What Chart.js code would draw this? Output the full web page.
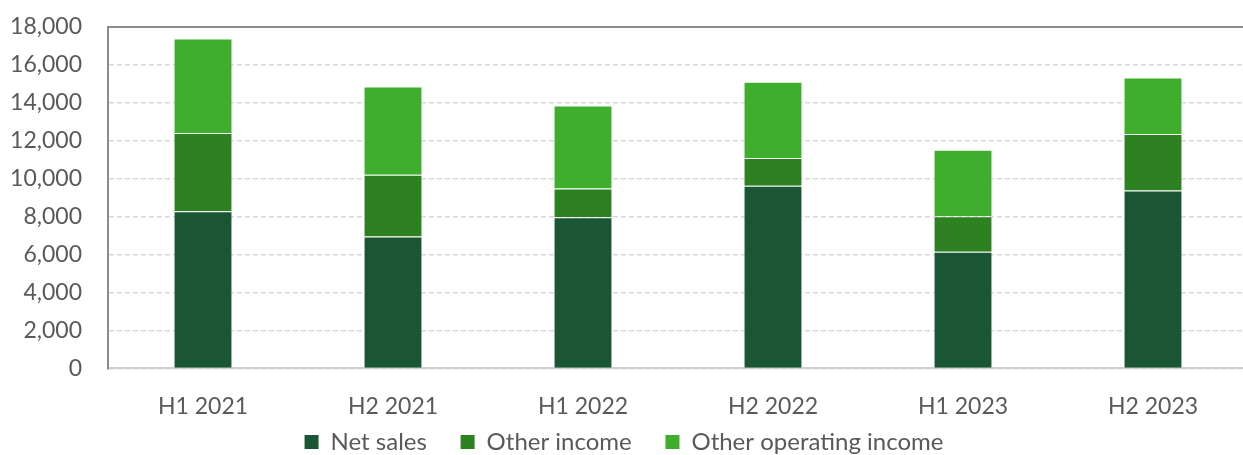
<!DOCTYPE html>
<html>
<head>
<meta charset="utf-8">
<script src="https://cdn.jsdelivr.net/npm/chart.js@4"></script>
<style>
    html, body { margin: 0; padding: 0; background: #fff; overflow: hidden; }
    #wrap { width: 1248px; height: 468px; margin-top: -13px; }
</style>
</head>
<body>
<div id="wrap"><canvas id="chart"></canvas></div>
<script>
const categories = ["H1 2021", "H2 2021", "H1 2022", "H2 2022", "H1 2023", "H2 2023"];
const netSales = [8280, 6950, 7970, 9620, 6150, 9380];
const otherIncome = [4120, 3260, 1510, 1470, 1870, 2970];
const otherOperatingIncome = [4980, 4650, 4370, 4010, 3500, 2980];
const yMax = 18000;
const yStep = 2000;

const tickFont = { family: "Lato, 'Open Sans', sans-serif", size: 23 };
const legendFont = { family: "Lato, 'Open Sans', sans-serif", size: 24 };
const tickColor = "#595959";

var ctx = document.getElementById("chart").getContext("2d");
new Chart(ctx, {
    type: "bar",
    data: {
        labels: categories,
        datasets: [
            { label: "Net sales", data: netSales, backgroundColor: "#1b5634" },
            { label: "Other income", data: otherIncome, backgroundColor: "#2e8121" },
            { label: "Other operating income", data: otherOperatingIncome, backgroundColor: "#3eae2c" }
        ].map(function (ds) {
            ds.borderColor = "rgba(255,255,255,0.3)";
            ds.borderWidth = 1;
            ds.barPercentage = 0.31;
            ds.categoryPercentage = 1;
            return ds;
        })
    },
    options: {
        responsive: true,
        maintainAspectRatio: false,
        animation: false,
        layout: { padding: { top: 0, left: 0, right: 0, bottom: -9 } },
        plugins: {
            tooltip: { enabled: false },
            legend: {
                position: "bottom",
                labels: {
                    boxWidth: 14,
                    boxHeight: 14,
                    padding: 3,
                    color: tickColor,
                    font: legendFont,
                    generateLabels: function (chart) {
                        var items = Chart.defaults.plugins.legend.labels.generateLabels(chart);
                        items.forEach(function (item, i) {
                            item.lineWidth = 0;
                            if (i < items.length - 1) item.text += "     ";
                        });
                        return items;
                    }
                }
            }
        },
        scales: {
            x: {
                stacked: true,
                grid: { display: false },
                border: { color: "#d0d0d0", width: 2 },
                afterFit: function (scale) { scale.height -= 9; },
                ticks: { color: tickColor, font: tickFont, padding: 16 }
            },
            y: {
                stacked: true,
                min: 0,
                max: yMax,
                afterFit: function (scale) { scale.width = 108; },
                grid: {
                    drawTicks: false,
                    color: function (c) {
                        if (c.tick.value === yMax) return "#8c8c8c";
                        return "#d9d9d9";
                    },
                    lineWidth: function (c) {
                        return c.tick.value === yMax ? 2 : 1.5;
                    }
                },
                border: {
                    color: "#8c8c8c",
                    width: 2,
                    dash: function (c) {
                        return (c.tick && c.tick.value === yMax) ? [] : [5, 3];
                    }
                },
                ticks: {
                    stepSize: yStep,
                    color: tickColor,
                    font: tickFont,
                    padding: 26,
                    callback: function (v) { return v.toLocaleString("en-US"); }
                }
            }
        }
    }
});
</script>
</body>
</html>
